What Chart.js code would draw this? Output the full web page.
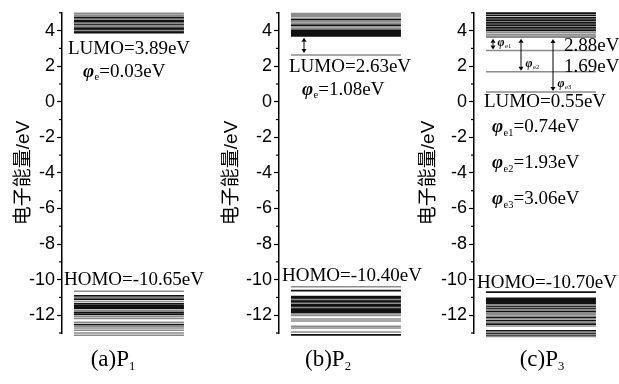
<!DOCTYPE html>
<html>
<head>
<meta charset="utf-8">
<script src="https://cdn.jsdelivr.net/npm/chart.js@4.4.0/dist/chart.umd.min.js"></script>
<style>
  html, body { margin: 0; padding: 0; background: #fff; }
  #wrap { position: relative; width: 619px; height: 384px; }
  #wrap canvas { position: absolute; left: 0; top: 0; }
</style>
</head>
<body>
<div id="wrap">
  <canvas id="p1" width="619" height="384" style="width:619px;height:384px"></canvas>
  <canvas id="p2" width="619" height="384" style="width:619px;height:384px"></canvas>
  <canvas id="p3" width="619" height="384" style="width:619px;height:384px"></canvas>
</div>
<script>
// ---- energy axis ----
const energyMin = -13;
const energyMax = 5;
const yTitle = '电子能量/eV';

// ---- frontier orbitals (eV) ----
const lumo = [3.89, 2.63, 0.55];
const homo = [-10.65, -10.40, -10.70];

// ---- trap depths (eV) ----
const p1TrapDepth = 0.03;
const p2TrapDepth = 1.08;
const p3TrapLevels = [2.88, 1.69, 0.55];
const p3TrapDepths = [0.74, 1.93, 3.06];

// ---- molecular orbital levels (eV): dense (dark) and isolated (grey) ----
const p1UpperDense = [3.89, 3.92, 4.08, 4.15, 4.34, 4.47, 4.56, 4.72];
const p1UpperSparse = [4.00, 4.22, 4.28, 4.42, 4.64, 4.80, 4.88, 4.97];
const p1LowerDense = [-10.91, -11.10, -11.36, -11.48, -11.55, -11.62, -11.84, -11.95, -12.53];
const p1LowerSparse = [-10.65, -11.00, -11.23, -11.73, -12.07, -12.18, -12.40, -12.62, -12.72, -12.85, -13.00, -13.12];

const p2UpperDense = [3.71, 3.75, 3.80, 3.85, 3.90, 3.96, 4.02, 4.30, 4.62];
const p2UpperSparse = [2.63, 4.10, 4.20, 4.40, 4.50, 4.70, 4.80, 4.88, 4.96];
const p2LowerDense = [-10.62, -10.95, -11.05, -11.18, -11.28, -11.40, -11.50, -11.62, -11.72, -11.82, -13.10];
const p2LowerSparse = [-10.40, -11.12, -11.33, -11.56, -11.92, -12.02, -12.22, -12.33, -12.62, -12.72, -12.95];

const p3UpperDense = [4.02, 4.16, 4.30, 4.44, 4.58, 4.72, 4.86, 4.98];
const p3UpperSparse = [3.62, 3.70, 3.80, 3.90, 2.88, 1.69, 0.55];
const p3LowerDense = [-10.70, -11.05, -11.15, -11.25, -11.35, -11.50, -11.62, -11.78, -12.12, -12.30, -12.50, -12.88, -13.02, -13.15];
const p3LowerSparse = [-11.43, -11.56, -11.70, -11.86, -11.95, -12.04, -12.20, -12.40, -12.60, -12.95, -13.08, -13.20];

// ---- panel captions ----
const captions = ['(a)P', '(b)P', '(c)P'];
const captionSubs = ['1', '2', '3'];

// ---------------------------------------------------------------
const W = 619, H = 384;
const SERIF = "'Liberation Serif', 'Times New Roman', serif";
const DARK = '#101010';
const GREY = '#8c8c8c';
const AREA_W = 130;           // width of each plot area
const BAR_X0 = 0.092, BAR_X1 = 0.938;

function levelData(levels) {
  const pts = [];
  levels.forEach(e => {
    pts.push({ x: BAR_X0, y: e }, { x: BAR_X1, y: e }, { x: BAR_X1, y: null });
  });
  return pts;
}

// draw a run of text pieces: [text, style] with style '' | 'i' (italic phi) | 's' (subscript)
function rich(ctx, x, y, parts, size) {
  ctx.textAlign = 'left';
  ctx.textBaseline = 'alphabetic';
  ctx.fillStyle = '#000';
  let cx = x;
  parts.forEach(([t, st]) => {
    let fs = size, dy = 0, f = '';
    if (st === 's') { fs = size * 0.55; dy = size * 0.16; }
    if (st === 'i') { f = 'italic bold '; }
    ctx.font = f + fs + 'px ' + SERIF;
    ctx.fillText(t, cx, y + dy);
    cx += ctx.measureText(t).width + (st === 'i' ? 0.5 : 0);
  });
  return cx - x;
}

function richCentered(ctx, cx, y, parts, size) {
  const w = rich(ctx, -9999, y, parts, size);
  rich(ctx, cx - w / 2, y, parts, size);
}

function arrow(ctx, x, y1, y2, head) {
  // double-headed vertical arrow between pixel rows y1 (top) and y2 (bottom)
  ctx.save();
  ctx.strokeStyle = '#000';
  ctx.fillStyle = '#000';
  ctx.lineWidth = 1;
  ctx.beginPath();
  ctx.moveTo(x, y1 + head);
  ctx.lineTo(x, y2 - head);
  ctx.stroke();
  ctx.beginPath();
  ctx.moveTo(x, y1); ctx.lineTo(x - 2.5, y1 + head); ctx.lineTo(x + 2.5, y1 + head); ctx.closePath();
  ctx.fill();
  ctx.beginPath();
  ctx.moveTo(x, y2); ctx.lineTo(x - 2.5, y2 - head); ctx.lineTo(x + 2.5, y2 - head); ctx.closePath();
  ctx.fill();
  ctx.restore();
}

function fmt(v) { return v.toFixed(2); }

function makePanel(id, idx, axisX, titleCX, captionCX, dense, sparse, annotate) {
  const titleSize = 19;
  const boxLeft = titleCX - titleSize / 2;
  const axisWidth = axisX - boxLeft;

  const decor = {
    id: 'decor' + idx,
    afterDraw(chart) {
      const ctx = chart.ctx;
      const ys = chart.scales.y;
      // minor ticks at odd energies
      ctx.save();
      ctx.strokeStyle = '#000';
      ctx.lineWidth = 1.2;
      for (let v = Math.ceil(energyMin); v <= energyMax; v++) {
        if (Math.abs(v % 2) === 1) {
          const py = ys.getPixelForValue(v);
          ctx.beginPath();
          ctx.moveTo(axisX - 3, py);
          ctx.lineTo(axisX, py);
          ctx.stroke();
        }
      }
      ctx.restore();
      annotate(ctx, ys, axisX);
      richCentered(ctx, captionCX, 366, [[captions[idx], ''], [captionSubs[idx], 's']], 23);
    }
  };

  new Chart(document.getElementById(id), {
    type: 'line',
    data: {
      datasets: [
        { data: levelData(sparse), borderColor: GREY, borderWidth: 1.5, pointRadius: 0, clip: false, borderCapStyle: 'butt' },
        { data: levelData(dense), borderColor: DARK, borderWidth: 1.8, pointRadius: 0, clip: false, borderCapStyle: 'butt' }
      ]
    },
    options: {
      responsive: false,
      animation: false,
      events: [],
      layout: { padding: { left: boxLeft, right: W - axisX - AREA_W, top: 12, bottom: H - 333 } },
      plugins: { legend: { display: false }, tooltip: { enabled: false } },
      scales: {
        x: { type: 'linear', display: false, min: 0, max: 1 },
        y: {
          type: 'linear',
          min: energyMin,
          max: energyMax,
          afterFit(s) { s.width = axisWidth; },
          ticks: {
            stepSize: 1,
            autoSkip: false,
            padding: 2,
            color: '#000',
            font: { family: "'Liberation Sans', Arial, sans-serif", size: 18 },
            callback: v => (v % 2 === 0 ? String(v) : '')
          },
          grid: {
            drawOnChartArea: false,
            tickLength: 5,
            tickWidth: 1.2,
            tickColor: c => (c.tick && c.tick.value % 2 === 0 ? '#000' : 'rgba(0,0,0,0)')
          },
          border: { color: '#000', width: 1.5 },
          title: {
            display: true,
            text: yTitle,
            padding: 0,
            color: '#000',
            font: { family: "'Liberation Sans', 'Noto Sans CJK SC', sans-serif", size: titleSize, lineHeight: 1 }
          }
        }
      }
    },
    plugins: [decor]
  });
}

// (a) P1
makePanel('p1', 0, 62, 24, 113, [...p1UpperDense, ...p1LowerDense], [...p1UpperSparse, ...p1LowerSparse],
  (ctx, ys, ax) => {
    const yl = ys.getPixelForValue(lumo[0]);
    rich(ctx, ax + 6, yl + 21, [['LUMO=' + fmt(lumo[0]) + 'eV', '']], 19);
    rich(ctx, ax + 21, yl + 44, [['φ', 'i'], ['e', 's'], ['=' + fmt(p1TrapDepth) + 'eV', '']], 19);
    const yh = ys.getPixelForValue(homo[0]);
    rich(ctx, ax + 2, yh - 6.5, [['HOMO=' + fmt(homo[0]) + 'eV', '']], 19);
  });

// (b) P2
makePanel('p2', 1, 279, 232, 328, [...p2UpperDense, ...p2LowerDense], [...p2UpperSparse, ...p2LowerSparse],
  (ctx, ys, ax) => {
    const yl = ys.getPixelForValue(lumo[1]);
    const yt = ys.getPixelForValue(lumo[1] + p2TrapDepth);
    arrow(ctx, ax + 25, yt + 2, yl - 2, 4);
    rich(ctx, ax + 10, yl + 17.5, [['LUMO=' + fmt(lumo[1]) + 'eV', '']], 19);
    rich(ctx, ax + 23, yl + 40.5, [['φ', 'i'], ['e', 's'], ['=' + fmt(p2TrapDepth) + 'eV', '']], 19);
    const yh = ys.getPixelForValue(homo[1]);
    rich(ctx, ax + 3, yh - 6, [['HOMO=' + fmt(homo[1]) + 'eV', '']], 19);
  });

// (c) P3
makePanel('p3', 2, 474, 429, 542, [...p3UpperDense, ...p3LowerDense], [...p3UpperSparse, ...p3LowerSparse],
  (ctx, ys, ax) => {
    const arrowX = [ax + 19, ax + 47, ax + 79];
    p3TrapLevels.forEach((lv, i) => {
      const yb = ys.getPixelForValue(lv);
      const yt = ys.getPixelForValue(lv + p3TrapDepths[i]);
      arrow(ctx, arrowX[i], yt + 1.5, yb - 1, 4);
      rich(ctx, arrowX[i] + 4.5, yb - 4.5, [['φ', 'i'], ['e' + (i + 1), 's']], 12);
    });
    [0, 1].forEach(i => {
      const y = ys.getPixelForValue(p3TrapLevels[i]);
      rich(ctx, ax + 90, y, [[fmt(p3TrapLevels[i]) + 'eV', '']], 19);
    });
    const yl = ys.getPixelForValue(lumo[2]);
    rich(ctx, ax + 10, yl + 15.5, [['LUMO=' + fmt(lumo[2]) + 'eV', '']], 19);
    p3TrapDepths.forEach((d, i) => {
      rich(ctx, ax + 18, yl + 40.5 + i * 36, [['φ', 'i'], ['e' + (i + 1), 's'], ['=' + fmt(d) + 'eV', '']], 19);
    });
    const yh = ys.getPixelForValue(homo[2]);
    rich(ctx, ax + 3, yh - 4.5, [['HOMO=' + fmt(homo[2]) + 'eV', '']], 19);
  });
</script>
</body>
</html>
